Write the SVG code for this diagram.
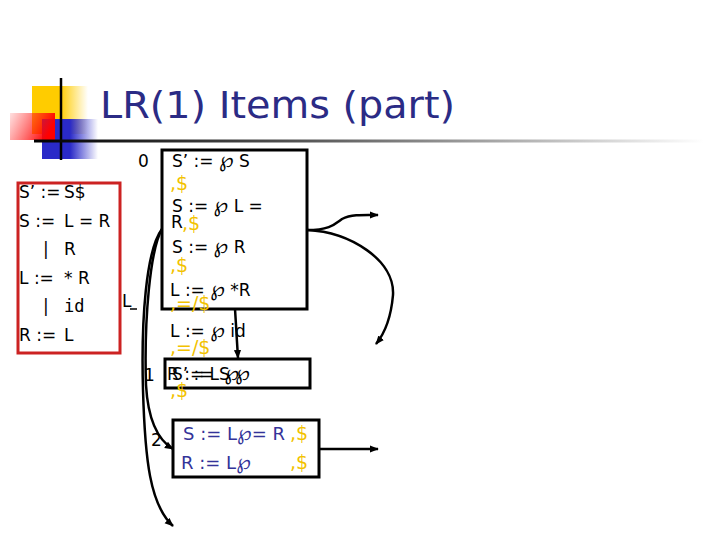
<svg xmlns="http://www.w3.org/2000/svg" width="720" height="540" viewBox="0 0 720 540">
<defs>
<linearGradient id="gy" x1="0" y1="0" x2="1" y2="0"><stop offset="0" stop-color="#ffcc00"/><stop offset="0.5" stop-color="#ffcc00"/><stop offset="1" stop-color="#ffcc00" stop-opacity="0"/></linearGradient>
<linearGradient id="gb" x1="0" y1="0" x2="1" y2="0"><stop offset="0" stop-color="#2a2ac8"/><stop offset="0.5" stop-color="#2a2ac8"/><stop offset="1" stop-color="#2a2ac8" stop-opacity="0"/></linearGradient>
<linearGradient id="gr" x1="0" y1="0" x2="1" y2="0.3"><stop offset="0" stop-color="#ff3030" stop-opacity="0.15"/><stop offset="1" stop-color="#ff0000"/></linearGradient>
<linearGradient id="gl" x1="0" y1="0" x2="1" y2="0"><stop offset="0" stop-color="#000"/><stop offset="0.4" stop-color="#555"/><stop offset="1" stop-color="#fff"/></linearGradient>
<marker id="ah" viewBox="0 0 10 10" refX="9" refY="5" markerWidth="9" markerHeight="9" markerUnits="userSpaceOnUse" orient="auto"><path d="M0,1 L10,5 L0,9 z" fill="#000"/></marker>
<style>
.t{font-family:"DejaVu Sans","Liberation Sans",sans-serif;font-size:17px;fill:#000}
.p{font-size:21px}
.g{font-family:"DejaVu Sans","Liberation Sans",sans-serif;font-size:17px;fill:#000}
.m{font-family:"DejaVu Sans Mono","Liberation Mono",monospace;font-size:17px;fill:#000}
.y{font-family:"DejaVu Sans","Liberation Sans",sans-serif;font-size:19px;fill:#f2c200}
.b{font-family:"DejaVu Sans","Liberation Sans",sans-serif;font-size:18px;fill:#333399}
.box{fill:#fff;stroke:#000;stroke-width:3}
.c{fill:none;stroke:#000;stroke-width:2.5}
</style>
</defs>
<rect width="720" height="540" fill="#fff"/>
<g id="decor">
<rect x="32" y="86" width="56" height="48" fill="url(#gy)"/>
<rect x="42" y="119" width="56" height="40" fill="url(#gb)"/>
<rect x="10" y="113" width="45" height="27" fill="url(#gr)"/>
<line x1="61" y1="78" x2="61" y2="160" stroke="#000" stroke-width="2.5"/>
<rect x="34" y="139.5" width="670" height="3" fill="url(#gl)"/>
</g>
<text id="title" x="100" y="118" font-family="DejaVu Sans, Liberation Sans, sans-serif" font-size="38" fill="#2b2b85" textLength="355" lengthAdjust="spacingAndGlyphs">LR(1) Items (part)</text>
<g id="grammar">
<rect x="18" y="183" width="102" height="170" fill="none" stroke="#cc2222" stroke-width="3"/>
<text class="g" x="19" y="198">S’ :=</text><text class="g" x="64" y="198">S$</text>
<text class="g" x="19" y="227">S :=</text><text class="g" x="64" y="227">L = R</text>
<text class="g" x="43" y="255">|</text><text class="g" x="64" y="255">R</text>
<text class="g" x="19" y="284">L :=</text><text class="g" x="64" y="284">* R</text>
<text class="g" x="43" y="312">|</text><text class="m" x="64" y="312">id</text>
<text class="g" x="19" y="341">R :=</text><text class="g" x="64" y="341">L</text>
</g>
<g id="state0">
<rect class="box" x="162" y="150" width="145" height="159"/>
<text class="g" x="138" y="167">0</text>
<text class="t" x="172" y="167">S’ := <tspan class="p">℘</tspan> S</text>
<text class="y" x="170" y="190">,$</text>
<text class="t" x="172" y="212">S := <tspan class="p">℘</tspan> L =</text>
<text class="t" x="171" y="228">R</text><text class="y" x="182" y="230">,$</text>
<text class="t" x="172" y="253">S := <tspan class="p">℘</tspan> R</text>
<text class="y" x="170" y="272">,$</text>
<text class="t" x="170" y="296">L := <tspan class="p">℘</tspan> *R</text>
<text class="y" x="170" y="310">,=/$</text>
<text class="t" x="170" y="337">L := <tspan class="p">℘</tspan> id</text>
<text class="y" x="170" y="354">,=/$</text>
</g>
<g id="state1">
<rect class="box" x="165" y="359" width="145" height="29"/>
<text class="g" x="144" y="381">1</text>
<text class="t" x="167" y="380">R := L <tspan class="p">℘</tspan></text>
<text class="t" x="172" y="380">S’ := S <tspan class="p">℘</tspan></text>
<text class="y" x="170" y="397">,$</text>
</g>
<g id="state2">
<rect class="box" x="173" y="420" width="146" height="57"/>
<text class="g" x="151" y="446">2</text>
<text class="b" x="183" y="440">S := L<tspan class="p">℘</tspan>= R</text><text class="y" x="290" y="440">,$</text>
<text class="b" x="181" y="469">R := L<tspan class="p">℘</tspan></text><text class="y" x="290" y="469">,$</text>
</g>
<g id="connectors">
<text class="g" x="122" y="307">L</text>
<line x1="130" y1="309" x2="137" y2="309" stroke="#000" stroke-width="1.5"/>
<path class="c" d="M235,309 L238,358" marker-end="url(#ah)"/>
<path class="c" d="M162,229 C146,250 141,320 143,390 C145,460 150,505 173,526" marker-end="url(#ah)"/>
<path class="c" d="M162,229 C150,250 144,320 146,385 C148,420 158,440 173,449" marker-end="url(#ah)"/>
<path class="c" d="M307,230 C330,230 335,224 342,219 C352,214 365,215 378,215" marker-end="url(#ah)"/>
<path class="c" d="M307,230 C350,232 395,260 393,295 C391,318 385,333 376,344" marker-end="url(#ah)"/>
<path class="c" d="M319,449 L378,449" marker-end="url(#ah)"/>
</g>
</svg>
